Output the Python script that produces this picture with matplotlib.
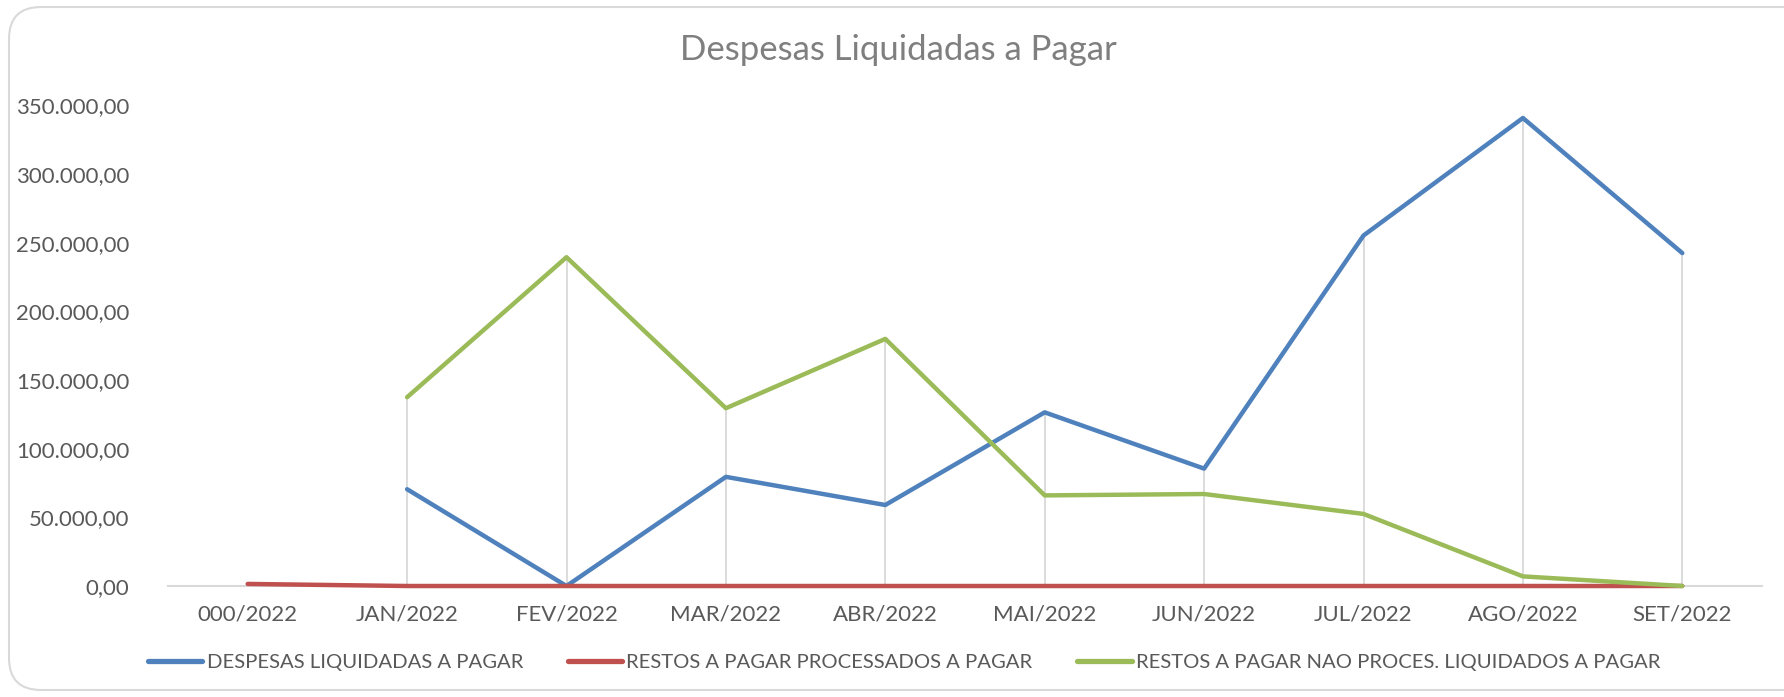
import numpy as np
import matplotlib

matplotlib.use("Agg")
import matplotlib.pyplot as plt
from matplotlib.patches import FancyBboxPatch
from matplotlib.ticker import FuncFormatter

plt.rcParams["font.family"] = ["Lato", "DejaVu Sans"]

# data
categories = ["000/2022", "JAN/2022", "FEV/2022", "MAR/2022", "ABR/2022",
              "MAI/2022", "JUN/2022", "JUL/2022", "AGO/2022", "SET/2022"]
despesas_liquidadas = [np.nan, 70500, 0, 79500, 59000, 126500, 85500, 255300, 340900, 242500]
restos_processados = [1500, 0, 0, 0, 0, 0, 0, 0, 0, 0]
restos_nao_processados = [np.nan, 137500, 239500, 129500, 180000, 66000, 67000, 52500, 7000, 0]
y_ticks = [0, 50000, 100000, 150000, 200000, 250000, 300000, 350000]

series = [
    ("DESPESAS LIQUIDADAS A PAGAR", despesas_liquidadas, "#4F81BD"),
    ("RESTOS A PAGAR PROCESSADOS A PAGAR", restos_processados, "#C0504D"),
    ("RESTOS A PAGAR NAO PROCES. LIQUIDADOS A PAGAR", restos_nao_processados, "#9BBB59"),
]


def br_format(value, _pos):
    text = f"{value:,.2f}"
    return text.replace(",", "X").replace(".", ",").replace("X", ".")


W, H = 1784, 697
fig = plt.figure(figsize=(W / 100, H / 100), dpi=100)

# rounded chart border
bg = fig.add_axes([0, 0, 1, 1], zorder=-1)
bg.set_xlim(0, W)
bg.set_ylim(0, H)
bg.axis("off")
bg.add_patch(FancyBboxPatch((9, 7), W + 60, H - 14, boxstyle="round,pad=0,rounding_size=32",
                            facecolor="white", edgecolor="#D9D9D9", linewidth=1.5))

ax = fig.add_axes([168 / W, 111 / H, (1762 - 168) / W, (586 - 105.5) / H])
ax.set_facecolor("none")
x = np.arange(len(categories))

# drop lines from the highest point of each category
tops = np.nanmax(np.array([s[1] for s in series], dtype=float), axis=0)
ax.vlines(x, 0, tops, color="#D9D9D9", linewidth=1.3, zorder=1)

handles = []
for label, values, color in series:
    (line,) = ax.plot(x, values, color=color, linewidth=3.2, solid_capstyle="round",
                      solid_joinstyle="round", label=label, zorder=3, clip_on=False)
    handles.append(line)

ax.set_xlim(-0.5, len(categories) - 0.5)
ax.set_ylim(0, 350000)
ax.set_yticks(y_ticks)
ax.yaxis.set_major_formatter(FuncFormatter(br_format))
ax.set_xticks(x)
ax.set_xticklabels(categories)
ax.tick_params(axis="y", length=0, pad=28, labelsize=16, labelcolor="#595959")
ax.tick_params(axis="x", length=0, pad=13, labelsize=16, labelcolor="#595959")
for side in ["top", "right", "left"]:
    ax.spines[side].set_visible(False)
ax.spines["bottom"].set_color("#D9D9D9")
ax.spines["bottom"].set_linewidth(1.5)
ax.spines["bottom"].set_zorder(0.5)

fig.text(898 / W, 1 - 50 / H, "Despesas Liquidadas a Pagar", ha="center", va="center",
         fontsize=25, color="#7F7F7F")

leg = fig.legend(handles=handles, loc="center", bbox_to_anchor=(904 / W, 35 / H), ncol=3,
                 frameon=False, fontsize=14.6, labelcolor="#595959", handlelength=2.7,
                 handletextpad=0.2, columnspacing=2.2)
for legline in leg.get_lines():
    legline.set_linewidth(3.8)

fig.savefig("out.png", dpi=100)
